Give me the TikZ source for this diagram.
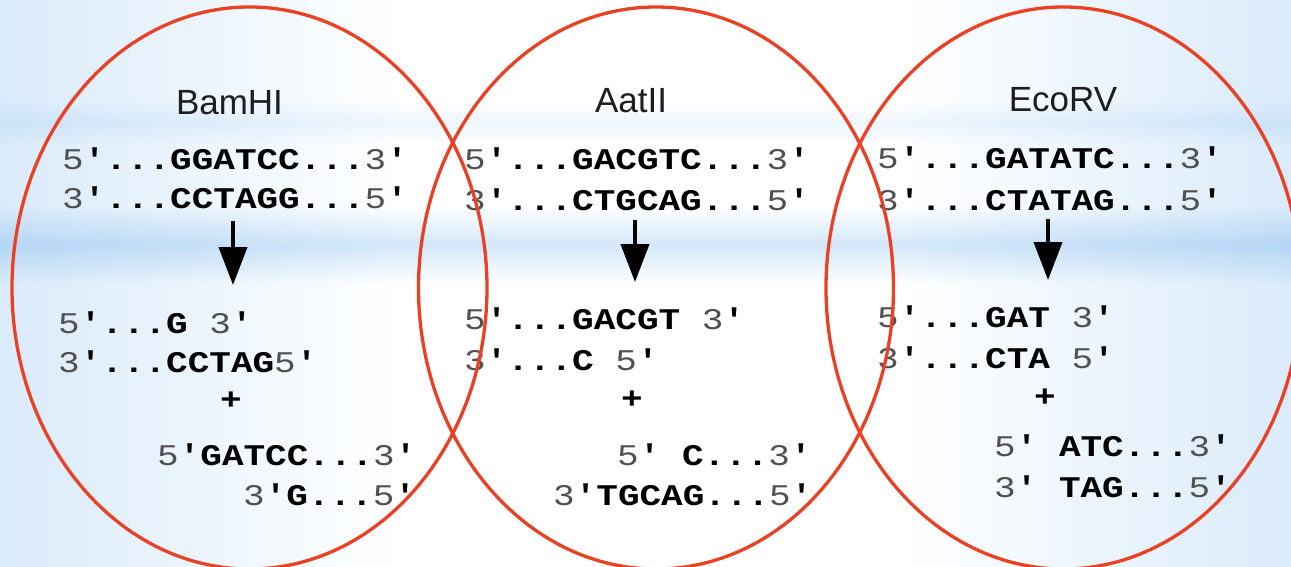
\documentclass[tikz,border=0pt]{standalone}
\usepackage{fontspec}
\usetikzlibrary{arrows.meta}
\newfontfamily\dna{Liberation Mono}[FakeStretch=1.2]
\newfontfamily\lab{Liberation Sans}
\definecolor{ringred}{RGB}{234,64,36}
\definecolor{numgray}{RGB}{80,80,80}
\definecolor{labgray}{RGB}{30,30,30}
\definecolor{bgblue}{RGB}{218,235,250}
\definecolor{bandblue}{RGB}{212,232,250}
\newcommand\pn[1]{{\mdseries\color{numgray}#1}}
\tikzset{
  seq/.style={anchor=base west, inner sep=0pt, font=\dna\bfseries\fontsize{30}{30}\selectfont},
  plus/.style={anchor=center, inner sep=0pt, font=\dna\bfseries\fontsize{30}{30}\selectfont},
  lbl/.style={anchor=base, inner sep=0pt, text=labgray, font=\lab\fontsize{35}{35}\selectfont},
  ring/.style={draw=ringred, line width=3.3pt},
  cut/.style={line width=4pt, -{Triangle[width=28pt,length=38pt]}},
}
\begin{document}
\begin{tikzpicture}[x=1pt,y=-1pt]
\useasboundingbox (0,0) rectangle (1291,567);
% background
\fill[white] (0,0) rectangle (1291,567);
\shade[left color=bgblue, right color=white] (0,0) rectangle (400,567);
\shade[left color=white, right color=bgblue] (900,0) rectangle (1291,567);
\begin{scope}[blend mode=multiply]
\shade[top color=white, bottom color=white, middle color=bandblue] (0,205) rectangle (1291,285);
\shade[top color=white, bottom color=white, middle color=bandblue!40!white] (0,100) rectangle (1291,145);
\end{scope}
% labels
\node[lbl] (t1) at (229.5,115) {BamHI};
\node[lbl] (t2) at (631,113) {AatII};
\node[lbl] (t3) at (1063,112) {EcoRV};
% BamHI
\node[seq] (b1) at (62,170) {\pn{5}'...GGATCC...\pn{3}'};
\node[seq] (b2) at (62,208) {\pn{3}'...CCTAGG...\pn{5}'};
\node[seq] (b3) at (58,333) {\pn{5}'...G \pn{3}'};
\node[seq] (b4) at (58,372) {\pn{3}'...CCTAG\pn{5}'};
\node[plus] (bp) at (231,401) {+};
\node[seq] (b5) at (157,465) {\pn{5}'GATCC...\pn{3}'};
\node[seq] (b6) at (243,505) {\pn{3}'G...\pn{5}'};
% AatII
\node[seq] (a1) at (464,170) {\pn{5}'...GACGTC...\pn{3}'};
\node[seq] (a2) at (464,210) {\pn{3}'...CTGCAG...\pn{5}'};
\node[seq] (a3) at (464,329) {\pn{5}'...GACGT \pn{3}'};
\node[seq] (a4) at (464,370) {\pn{3}'...C \pn{5}'};
\node[plus] (ap) at (632,400) {+};
\node[seq] (a5) at (617,465) {\pn{5}' C...\pn{3}'};
\node[seq] (a6) at (553,505) {\pn{3}'TGCAG...\pn{5}'};
% EcoRV
\node[seq] (e1) at (877,168) {\pn{5}'...GATATC...\pn{3}'};
\node[seq] (e2) at (877,210) {\pn{3}'...CTATAG...\pn{5}'};
\node[seq] (e3) at (877,327) {\pn{5}'...GAT \pn{3}'};
\node[seq] (e4) at (877,368) {\pn{3}'...CTA \pn{5}'};
\node[plus] (ep) at (1045,398) {+};
\node[seq] (e5) at (994,456) {\pn{5}' ATC...\pn{3}'};
\node[seq] (e6) at (994,497) {\pn{3}' TAG...\pn{5}'};
% arrows
\coordinate (bs) at (233,221); \coordinate (be) at (233,285);
\coordinate (as) at (635,220); \coordinate (ae) at (635,282);
\coordinate (es) at (1048,219); \coordinate (ee) at (1048,280);
\draw[cut] (bs) -- (be);
\draw[cut] (as) -- (ae);
\draw[cut] (es) -- (ee);
% rings
\draw[ring] (249.5,288) ellipse [x radius=237.5pt, y radius=281pt];
\draw[ring] (656,288) ellipse [x radius=237.5pt, y radius=281pt];
\draw[ring] (1063.5,288) ellipse [x radius=237.5pt, y radius=281pt];
\end{tikzpicture}
\end{document}
